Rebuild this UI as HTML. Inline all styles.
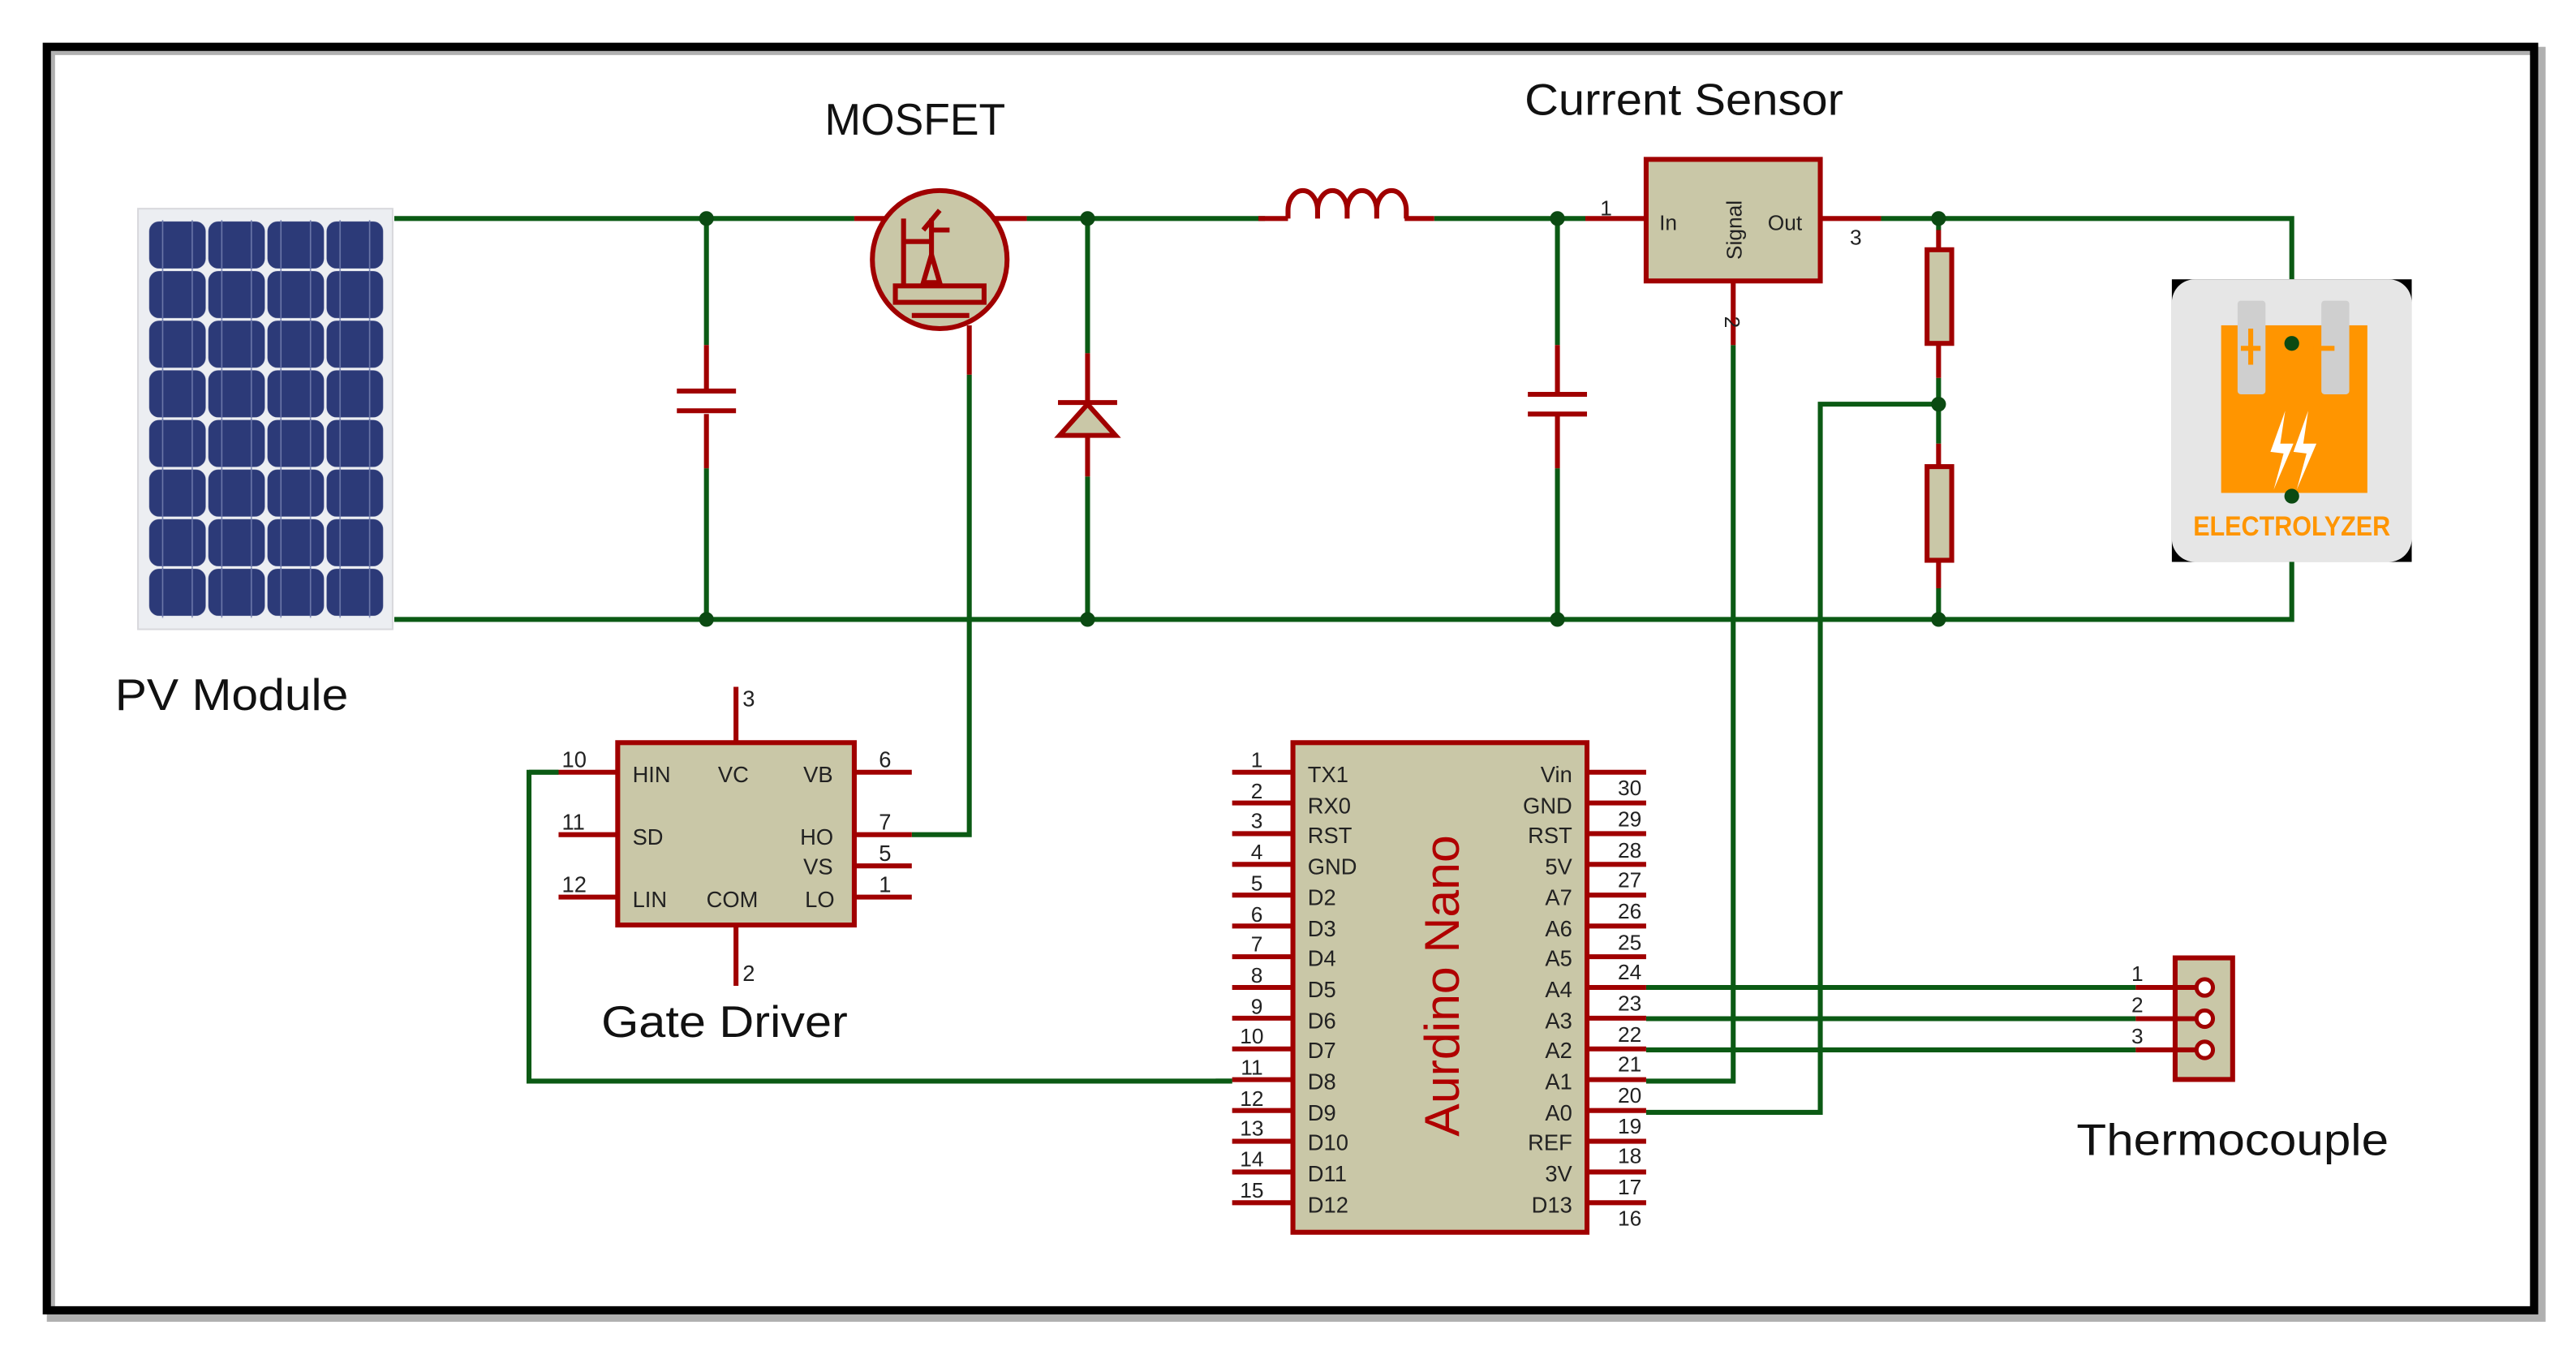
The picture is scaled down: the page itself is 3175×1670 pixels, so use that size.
<!DOCTYPE html>
<html><head><meta charset="utf-8"><style>
html,body{margin:0;padding:0;background:#fff}
svg{display:block}
text{font-family:"Liberation Sans",sans-serif}
</style></head><body>
<svg width="3175" height="1670" viewBox="0 0 1568 824.7" preserveAspectRatio="none" xmlns="http://www.w3.org/2000/svg">
<defs>
<pattern id="cells" x="90" y="134" width="36" height="30.2" patternUnits="userSpaceOnUse">
<rect x="0.8" y="0.8" width="34.4" height="28.6" rx="6" fill="#2c3a78"/>
<line x1="9" y1="0" x2="9" y2="30" stroke="#6a76a8" stroke-width="0.8"/>
<line x1="27" y1="0" x2="27" y2="30" stroke="#6a76a8" stroke-width="0.8"/>
</pattern>
</defs>
<rect x="0" y="0" width="1568" height="824.7" fill="#fff"/>
<rect x="31" y="31" width="1516" height="771" fill="none" stroke="#b0b0b0" stroke-width="5"/>
<rect x="28.5" y="28.5" width="1514" height="769" fill="none" stroke="#000" stroke-width="5"/>

<rect x="84" y="127" width="155" height="256" fill="#eceef2" stroke="#d8d8dc"/>
<rect x="90" y="134" width="144" height="242" fill="url(#cells)"/>

<g fill="none" stroke-linecap="butt">
<g stroke="#0b5a14" stroke-width="3">
<path d="M240 133 H520 M625 133 H770 M873 133 H965 M1145 133 H1395 V170"/>
<path d="M240 377 H1395 V340"/>
<path d="M430 133 V210 M430 285 V377"/>
<path d="M662 133 V215 M662 290 V377"/>
<path d="M948 133 V210 M948 285 V377"/>
<path d="M1180 133 V140 M1180 230 V270 M1180 358 V377"/>
<path d="M590 228 V508 H555"/>
<path d="M1055 210 V658 H1002"/>
<path d="M1180 246 H1108 V677 H1002"/>
<path d="M340 470 H322 V658 H750"/>
<path d="M1002 601 H1300 M1002 620 H1300 M1002 639 H1300"/>
</g>
<g stroke="#a00000" stroke-width="3">
<path d="M520 133 H625"/>
<path d="M430 210 V238 M430 252 V285 M412 238 H448 M412 250 H448"/>
<path d="M662 215 V245 M662 265 V290 M644 245 H680"/>
<path d="M645 265 H679 L662 246 Z" fill="#c9c7a7"/>
<path d="M948 210 V240 M948 252 V285 M930 240 H966 M930 252 H966"/>
<path d="M766 133 H784 M855 133 H873"/>
<path d="M784 133 V128 A9 12 0 0 1 802 128 V133 M802 133 V128 A9 12 0 0 1 820 128 V133 M820 133 V128 A9 12 0 0 1 838 128 V133 M838 133 V128 A9 12 0 0 1 856 128 V133"/>
<path d="M965 133 H1002 M1108 133 H1145 M1055 171 V210"/>
<path d="M1180 140 V152 M1180 209 V230 M1180 270 V284 M1180 341 V358"/>
<rect x="1173" y="152" width="15" height="57" fill="#c9c7a7"/>
<rect x="1173" y="284" width="15" height="57" fill="#c9c7a7"/>
<path d="M590 198 V228"/>
</g>
<g fill="#0b4a12" stroke="none">
<circle cx="430" cy="133" r="4.5"/><circle cx="430" cy="377" r="4.5"/>
<circle cx="662" cy="133" r="4.5"/><circle cx="662" cy="377" r="4.5"/>
<circle cx="948" cy="133" r="4.5"/><circle cx="948" cy="377" r="4.5"/>
<circle cx="1180" cy="133" r="4.5"/><circle cx="1180" cy="246" r="4.5"/><circle cx="1180" cy="377" r="4.5"/>
</g>
</g>

<g stroke="#a00000" stroke-width="3" fill="none">
<ellipse cx="572" cy="158" rx="41" ry="42" fill="#c9c7a7"/>
<path d="M550 133 V180 M550 147 H567 M567 133 V172"/>
<path d="M562 172 L567 155 L572 172 Z" fill="#c9c7a7"/>
<path d="M562 140 L572 128 M566 140 L578 140"/>
<rect x="545" y="174" width="54" height="10" fill="#c9c7a7"/>
<path d="M555 192 H590"/>
</g>

<rect x="1002" y="97" width="106" height="74" fill="#c9c7a7" stroke="#a00000" stroke-width="3"/>
<g font-size="13" fill="#222">
<text x="1010" y="140">In</text>
<text x="1076" y="140">Out</text>
<text x="974" y="131">1</text>
<text x="1126" y="149">3</text>
<text transform="translate(1060 140) rotate(-90)" text-anchor="middle">Signal</text>
<text transform="translate(1050 196) rotate(90)" text-anchor="middle">2</text>
</g>

<rect x="1322" y="170" width="146" height="172" fill="#000"/>
<rect x="1322" y="170" width="146" height="172" rx="14" fill="#e6e6e6"/>
<rect x="1352" y="198" width="89" height="102" fill="#ff9500"/>
<rect x="1362" y="183" width="17" height="57" rx="2" fill="#cfcfcf"/>
<rect x="1413" y="183" width="17" height="57" rx="2" fill="#cfcfcf"/>
<path d="M1370 200 V222 M1364 212 H1376 M1408 212 H1421" stroke="#ff9500" stroke-width="3"/>
<path d="M1391 250 L1382 275 L1390 276 L1384 298 L1396 270 L1388 270 Z M1405 250 L1396 275 L1404 276 L1398 298 L1410 270 L1402 270 Z" fill="#fff"/>
<circle cx="1395" cy="209" r="4.5" fill="#0b4a12"/>
<circle cx="1395" cy="302" r="4.5" fill="#0b4a12"/>
<text x="1395" y="326" text-anchor="middle" font-size="17" font-weight="bold" fill="#ff9500" textLength="120" lengthAdjust="spacingAndGlyphs">ELECTROLYZER</text>

<g stroke="#a00000" stroke-width="3">
<path d="M448 418 V452 M448 563 V600"/>
<path d="M340 470 H376 M340 508 H376 M340 546 H376"/>
<path d="M520 470 H555 M520 508 H555 M520 527 H555 M520 546 H555"/>
</g>
<path d="M322 470 H340" stroke="#0b5a14" stroke-width="3"/>
<rect x="376" y="452" width="144" height="111" fill="#c9c7a7" stroke="#a00000" stroke-width="3"/>
<g font-size="13.5" fill="#222">
<text x="385" y="476">HIN</text><text x="437" y="476">VC</text><text x="489" y="476">VB</text>
<text x="385" y="514">SD</text><text x="487" y="514">HO</text>
<text x="489" y="532">VS</text>
<text x="385" y="552">LIN</text><text x="430" y="552">COM</text><text x="490" y="552">LO</text>
<text x="452" y="430">3</text><text x="452" y="597">2</text>
<text x="342" y="467">10</text><text x="342" y="505">11</text><text x="342" y="543">12</text>
<text x="535" y="467">6</text><text x="535" y="505">7</text><text x="535" y="524">5</text><text x="535" y="543">1</text>
</g>

<g stroke="#a00000" stroke-width="3">
<path d="M750 470 H787 M750 488.7 H787 M750 507.4 H787 M750 526.1 H787 M750 544.8 H787 M750 563.6 H787 M750 582.3 H787 M750 601 H787 M750 619.7 H787 M750 638.4 H787 M750 657.1 H787 M750 675.9 H787 M750 694.6 H787 M750 713.3 H787 M750 732 H787"/>
<path d="M966 470 H1002 M966 488.7 H1002 M966 507.4 H1002 M966 526.1 H1002 M966 544.8 H1002 M966 563.6 H1002 M966 582.3 H1002 M966 601 H1002 M966 619.7 H1002 M966 638.4 H1002 M966 657.1 H1002 M966 675.9 H1002 M966 694.6 H1002 M966 713.3 H1002 M966 732 H1002"/>
</g>
<path d="M740 658 H750" stroke="#0b5a14" stroke-width="3"/>
<rect x="787" y="452" width="179" height="298" fill="#c9c7a7" stroke="#a00000" stroke-width="3"/>
<g font-size="13.5" fill="#222">
<text x="796" y="476">TX1</text><text x="796" y="495">RX0</text><text x="796" y="513">RST</text><text x="796" y="532">GND</text><text x="796" y="551">D2</text><text x="796" y="570">D3</text><text x="796" y="588">D4</text><text x="796" y="607">D5</text><text x="796" y="626">D6</text><text x="796" y="644">D7</text><text x="796" y="663">D8</text><text x="796" y="682">D9</text><text x="796" y="700">D10</text><text x="796" y="719">D11</text><text x="796" y="738">D12</text>
</g>
<g font-size="13.5" fill="#222" text-anchor="end">
<text x="957" y="476">Vin</text><text x="957" y="495">GND</text><text x="957" y="513">RST</text><text x="957" y="532">5V</text><text x="957" y="551">A7</text><text x="957" y="570">A6</text><text x="957" y="588">A5</text><text x="957" y="607">A4</text><text x="957" y="626">A3</text><text x="957" y="644">A2</text><text x="957" y="663">A1</text><text x="957" y="682">A0</text><text x="957" y="700">REF</text><text x="957" y="719">3V</text><text x="957" y="738">D13</text>
</g>
<g font-size="13" fill="#222" text-anchor="middle">
<text x="765" y="467">1</text><text x="765" y="486">2</text><text x="765" y="504">3</text><text x="765" y="523">4</text><text x="765" y="542">5</text><text x="765" y="561">6</text><text x="765" y="579">7</text><text x="765" y="598">8</text><text x="765" y="617">9</text><text x="762" y="635">10</text><text x="762" y="654">11</text><text x="762" y="673">12</text><text x="762" y="691">13</text><text x="762" y="710">14</text><text x="762" y="729">15</text>
<text x="992" y="484">30</text><text x="992" y="503">29</text><text x="992" y="522">28</text><text x="992" y="540">27</text><text x="992" y="559">26</text><text x="992" y="578">25</text><text x="992" y="596">24</text><text x="992" y="615">23</text><text x="992" y="634">22</text><text x="992" y="652">21</text><text x="992" y="671">20</text><text x="992" y="690">19</text><text x="992" y="708">18</text><text x="992" y="727">17</text><text x="992" y="746">16</text>
</g>
<text transform="translate(888 600) rotate(-90)" text-anchor="middle" font-size="30" fill="#b00000">Aurdino Nano</text>

<path d="M1300 601 H1336 M1300 620 H1336 M1300 639 H1336" stroke="#a00000" stroke-width="3"/>
<rect x="1324" y="583" width="35" height="74" fill="#c9c7a7" stroke="#a00000" stroke-width="3"/>
<path d="M1324 601 H1336 M1324 620 H1336 M1324 639 H1336" stroke="#a00000" stroke-width="3"/>
<g fill="#fff" stroke="#a00000" stroke-width="2.5">
<circle cx="1342" cy="601" r="5"/><circle cx="1342" cy="620" r="5"/><circle cx="1342" cy="639" r="5"/>
</g>
<g font-size="13" fill="#222" text-anchor="middle">
<text x="1301" y="597">1</text><text x="1301" y="616">2</text><text x="1301" y="635">3</text>
</g>

<g font-size="27" fill="#111" text-anchor="middle">
<text x="141" y="432" textLength="142" lengthAdjust="spacingAndGlyphs">PV Module</text>
<text x="557" y="82" textLength="110" lengthAdjust="spacingAndGlyphs">MOSFET</text>
<text x="1025" y="70" textLength="194" lengthAdjust="spacingAndGlyphs">Current Sensor</text>
<text x="441" y="631" textLength="150" lengthAdjust="spacingAndGlyphs">Gate Driver</text>
<text x="1359" y="703" textLength="190" lengthAdjust="spacingAndGlyphs">Thermocouple</text>
</g>
</svg>
</body></html>
